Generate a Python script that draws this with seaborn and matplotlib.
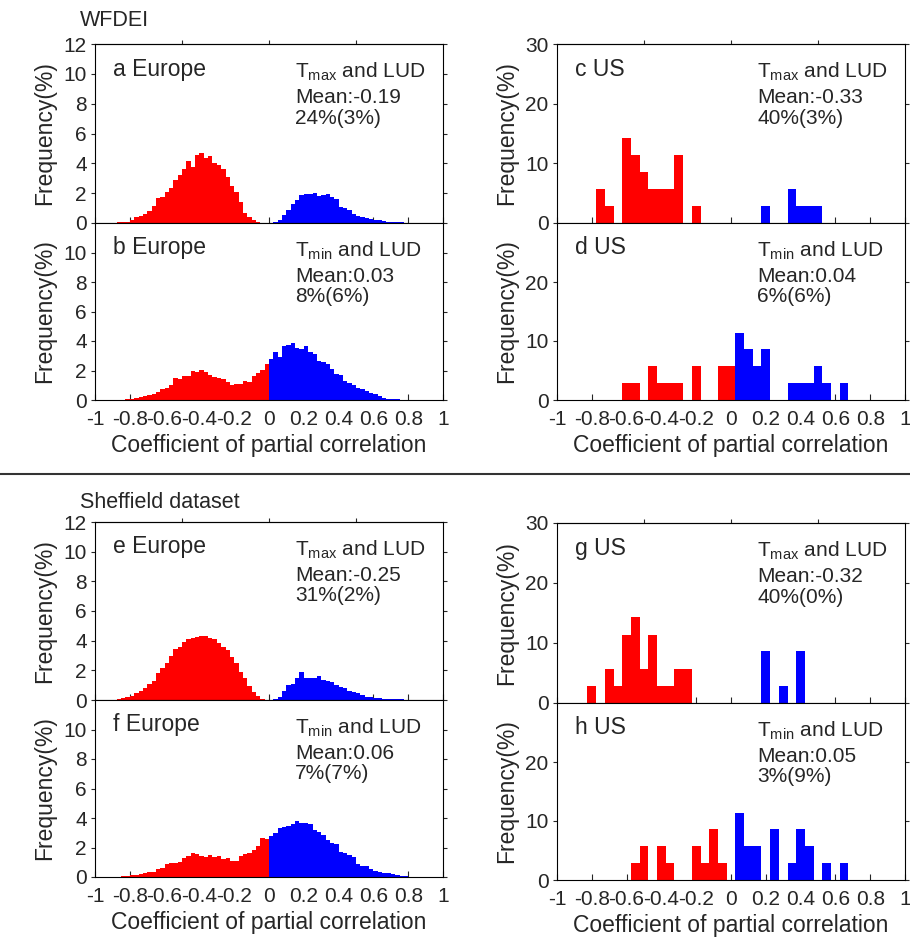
import numpy as np
import pandas as pd
import matplotlib
matplotlib.use('Agg')
import matplotlib.pyplot as plt
from matplotlib.lines import Line2D
import seaborn as sns

sns.set_style('ticks')
plt.rcParams['font.family'] = ['Liberation Sans', 'DejaVu Sans']
plt.rcParams['mathtext.default'] = 'regular'

# ---------------- data ----------------
EU_BIN = 0.025
US_BIN = 0.05

# WFDEI Europe Tmax (a)
a_red_start = -0.875
a_red = [0.04, 0.07, 0.10, 0.18, 0.38, 0.47, 0.60, 0.83, 1.16, 1.65, 1.72, 2.08, 2.32, 2.86, 3.22, 3.60,
         4.16, 3.73, 4.56, 4.67, 4.33, 4.51, 4.00, 3.89, 3.62, 3.10, 2.50, 2.08, 1.43, 0.69, 0.42, 0.20, 0.04]
a_blue_start = 0.025
a_blue = [0.07, 0.20, 0.54, 0.87, 1.27, 1.54, 1.88, 1.92, 1.92, 1.99, 1.83, 1.88, 1.92, 1.72, 1.61, 1.10,
          1.03, 0.87, 0.60, 0.47, 0.38, 0.34, 0.27, 0.20, 0.20, 0.13, 0.07, 0.07, 0.07, 0.04]
# WFDEI Europe Tmin (b)
b_red_start = -0.825
b_red = [0.05, 0.07, 0.11, 0.18, 0.27, 0.34, 0.41, 0.56, 0.72, 0.81, 1.02, 1.51, 1.40, 1.63, 1.63, 1.97,
         1.92, 2.03, 1.92, 1.69, 1.58, 1.47, 1.40, 1.24, 1.02, 1.06, 1.08, 1.29, 1.24, 1.65, 1.81, 2.03, 2.42]
b_blue_start = 0.0
b_blue = [2.76, 3.28, 2.89, 3.66, 3.73, 3.84, 3.50, 3.43, 3.66, 3.28, 3.10, 2.67, 2.60, 2.42, 2.08, 1.76,
          1.69, 1.31, 1.18, 1.02, 0.84, 0.72, 0.61, 0.50, 0.41, 0.27, 0.16, 0.09, 0.07, 0.05, 0.02]
# Sheffield Europe Tmax (e)
e_red_start = -0.875
e_red = [0.07, 0.11, 0.18, 0.27, 0.45, 0.63, 0.79, 1.08, 1.30, 1.80, 2.18, 2.47, 2.97, 3.44, 3.60, 3.93,
         4.11, 4.16, 4.27, 4.34, 4.34, 4.16, 4.11, 3.87, 3.60, 3.37, 2.92, 2.47, 1.91, 1.46, 0.97, 0.56,
         0.27, 0.09]
e_blue_start = 0.025
e_blue = [0.07, 0.18, 0.61, 1.01, 1.08, 1.51, 1.87, 1.46, 1.46, 1.51, 1.64, 1.35, 1.30, 1.24, 1.01, 0.90,
          0.79, 0.61, 0.52, 0.45, 0.34, 0.22, 0.18, 0.16, 0.11, 0.09, 0.07, 0.04, 0.04, 0.04]
# Sheffield Europe Tmin (f)
f_red_start = -0.875
f_red = [0.02, 0.05, 0.07, 0.11, 0.14, 0.18, 0.29, 0.34, 0.36, 0.52, 0.59, 0.86, 0.93, 0.93, 1.04, 1.27,
         1.42, 1.60, 1.54, 1.42, 1.38, 1.49, 1.38, 1.42, 1.22, 1.27, 1.11, 1.08, 1.42, 1.56, 1.65, 1.83,
         2.12, 2.62, 2.58]
f_blue_start = 0.0
f_blue = [2.80, 2.96, 3.30, 3.41, 3.48, 3.59, 3.82, 3.68, 3.64, 3.59, 3.19, 3.03, 2.85, 2.51, 2.28, 2.21,
          1.72, 1.60, 1.49, 1.33, 0.88, 0.77, 0.75, 0.52, 0.43, 0.36, 0.29, 0.25, 0.20, 0.14, 0.07, 0.05,
          0.02]

# US panels: bin centres and frequency (%)
c_red_x = [-0.75, -0.70, -0.60, -0.55, -0.50, -0.45, -0.40, -0.35, -0.30, -0.20]
c_red_y = [5.7, 2.9, 14.3, 11.4, 8.6, 5.7, 5.7, 5.7, 11.4, 2.9]
c_blue_x = [0.20, 0.35, 0.40, 0.45, 0.50]
c_blue_y = [2.9, 5.7, 2.9, 2.9, 2.9]

d_red_x = [-0.60, -0.55, -0.45, -0.40, -0.35, -0.30, -0.20, -0.05, 0.00]
d_red_y = [2.9, 2.9, 5.7, 2.9, 2.9, 2.9, 5.7, 5.7, 5.7]
d_blue_x = [0.05, 0.10, 0.15, 0.20, 0.35, 0.40, 0.45, 0.50, 0.55, 0.65]
d_blue_y = [11.4, 8.6, 5.7, 8.6, 2.9, 2.9, 2.9, 5.7, 2.9, 2.9]

g_red_x = [-0.80, -0.70, -0.65, -0.60, -0.55, -0.50, -0.45, -0.40, -0.35, -0.30, -0.25]
g_red_y = [2.9, 5.7, 2.9, 11.4, 14.3, 5.7, 11.4, 2.9, 2.9, 5.7, 5.7]
g_blue_x = [0.20, 0.30, 0.40]
g_blue_y = [8.6, 2.9, 8.6]

h_red_x = [-0.55, -0.50, -0.40, -0.35, -0.20, -0.15, -0.10, -0.05]
h_red_y = [2.9, 5.7, 5.7, 2.9, 5.7, 2.9, 8.6, 2.9]
h_blue_x = [0.05, 0.10, 0.15, 0.25, 0.35, 0.40, 0.45, 0.55, 0.65]
h_blue_y = [11.4, 5.7, 5.7, 8.6, 2.9, 8.6, 5.7, 2.9, 2.9]

panel_labels = ['a Europe', 'b Europe', 'c US', 'd US', 'e Europe', 'f Europe', 'g US', 'h US']
panel_vars = ['max', 'min', 'max', 'min', 'max', 'min', 'max', 'min']
panel_means = ['Mean:-0.19', 'Mean:0.03', 'Mean:-0.33', 'Mean:0.04',
               'Mean:-0.25', 'Mean:0.06', 'Mean:-0.32', 'Mean:0.05']
panel_pcts = ['24%(3%)', '8%(6%)', '40%(3%)', '6%(6%)',
              '31%(2%)', '7%(7%)', '40%(0%)', '3%(9%)']
x_ticks = [-1, -0.8, -0.6, -0.4, -0.2, 0, 0.2, 0.4, 0.6, 0.8, 1]
x_ticklabels = ['-1', '-0.8', '-0.6', '-0.4', '-0.2', '0', '0.2', '0.4', '0.6', '0.8', '1']

RED = '#ff0000'
BLUE = '#0000ff'
FS = 15        # tick labels / panel text
FS_LAB = 16.5  # axis labels

W, H = 910, 940
fig = plt.figure(figsize=(W / 100, H / 100), dpi=100)


def rect(l, r, t, b):
    return [l / W, 1 - b / H, (r - l) / W, (b - t) / H]


def draw_hist(ax, xs, ws, edges, color):
    df = pd.DataFrame({'x': np.asarray(xs, dtype=float), 'w': np.asarray(ws, dtype=float)})
    sns.histplot(data=df, x='x', weights='w', bins=[float(e) for e in edges],
                 element='step', fill=True, color=color, alpha=1, linewidth=0, ax=ax)


def eu_hist(ax, start, vals, color):
    n = len(vals)
    edges = start + EU_BIN * np.arange(n + 1)
    centers = edges[:-1] + EU_BIN / 2
    draw_hist(ax, centers, vals, edges, color)


def us_hist(ax, xs, ys, color):
    edges = -0.825 + US_BIN * np.arange(34)
    draw_hist(ax, xs, ys, edges, color)


def style(ax, idx, ymax, yticks, top, bottom):
    ax.set_xlim(-1, 1)
    ax.set_ylim(0, ymax)
    ax.set_yticks(yticks)
    ax.set_yticklabels([str(v) for v in yticks])
    ax.set_xticks(x_ticks)
    ax.tick_params(axis='y', left=True, right=True, direction='out', length=3,
                   width=0.8, labelsize=FS, pad=3)
    ax.tick_params(axis='x', bottom=True, top=False, direction='in', length=4,
                   width=0.8, labelsize=FS, pad=7)
    if bottom:
        ax.set_xticklabels(x_ticklabels)
        ax.set_xlabel('Coefficient of partial correlation', fontsize=FS_LAB, labelpad=4)
    else:
        ax.set_xticklabels([])
        ax.set_xlabel('')
    if top:
        sec = ax.secondary_xaxis('top')
        sec.set_xticks([-0.5, 0, 0.5])
        sec.tick_params(direction='out', length=3, width=0.8, labeltop=False)
    ax.set_ylabel('Frequency(%)', fontsize=FS_LAB, labelpad=5)
    for s in ax.spines.values():
        s.set_linewidth(0.8)
        s.set_color('black')
    ax.text(0.052, 0.86, panel_labels[idx], transform=ax.transAxes, fontsize=FS_LAB,
            va='center', ha='left')
    ax.text(0.575, 0.845, 'T$_{' + panel_vars[idx] + '}$ and LUD', transform=ax.transAxes,
            fontsize=FS, va='center', ha='left')
    ax.text(0.575, 0.70, panel_means[idx], transform=ax.transAxes, fontsize=FS,
            va='center', ha='left')
    ax.text(0.575, 0.585, panel_pcts[idx], transform=ax.transAxes, fontsize=FS,
            va='center', ha='left')


rects = [rect(95, 443, 44, 223), rect(95, 443, 223, 400),
         rect(557, 905, 44, 223), rect(557, 905, 223, 400),
         rect(95, 443, 522, 700), rect(95, 443, 700, 877),
         rect(557, 905, 523, 703), rect(557, 905, 703, 880)]
axes = [fig.add_axes(r) for r in rects]

eu_hist(axes[0], a_red_start, a_red, RED)
eu_hist(axes[0], a_blue_start, a_blue, BLUE)
eu_hist(axes[1], b_red_start, b_red, RED)
eu_hist(axes[1], b_blue_start, b_blue, BLUE)
us_hist(axes[2], c_red_x, c_red_y, RED)
us_hist(axes[2], c_blue_x, c_blue_y, BLUE)
us_hist(axes[3], d_red_x, d_red_y, RED)
us_hist(axes[3], d_blue_x, d_blue_y, BLUE)
eu_hist(axes[4], e_red_start, e_red, RED)
eu_hist(axes[4], e_blue_start, e_blue, BLUE)
eu_hist(axes[5], f_red_start, f_red, RED)
eu_hist(axes[5], f_blue_start, f_blue, BLUE)
us_hist(axes[6], g_red_x, g_red_y, RED)
us_hist(axes[6], g_blue_x, g_blue_y, BLUE)
us_hist(axes[7], h_red_x, h_red_y, RED)
us_hist(axes[7], h_blue_x, h_blue_y, BLUE)

style(axes[0], 0, 12, [0, 2, 4, 6, 8, 10, 12], True, False)
style(axes[1], 1, 12, [0, 2, 4, 6, 8, 10], False, True)
style(axes[2], 2, 30, [0, 10, 20, 30], True, False)
style(axes[3], 3, 30, [0, 10, 20], False, True)
style(axes[4], 4, 12, [0, 2, 4, 6, 8, 10, 12], True, False)
style(axes[5], 5, 12, [0, 2, 4, 6, 8, 10], False, True)
style(axes[6], 6, 30, [0, 10, 20, 30], True, False)
style(axes[7], 7, 30, [0, 10, 20], False, True)

fig.text(80 / W, 1 - 20 / H, 'WFDEI', fontsize=15.5, ha='left', va='center')
fig.text(80 / W, 1 - 502 / H, 'Sheffield dataset', fontsize=15.5, ha='left', va='center')
fig.add_artist(Line2D([0, 1], [1 - 474 / H, 1 - 474 / H], color='#333333', lw=1.5))

fig.savefig('out.png', dpi=100)
